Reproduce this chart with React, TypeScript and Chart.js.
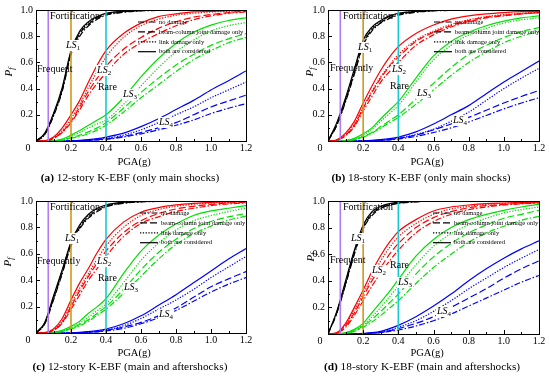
import React, { useEffect, useRef } from 'react';
import { Chart, registerables } from 'chart.js';

Chart.register(...registerables);

// ---------- data ----------
const PGA = [0, 0.05, 0.1, 0.15, 0.2, 0.25, 0.3, 0.35, 0.4, 0.5, 0.6, 0.7, 0.8, 0.9, 1.0, 1.1, 1.2];
const LEVELS = [0.07, 0.2, 0.4];
const CASE_LABELS = ['no damage', 'beam-column joint damage only', 'link damage only', 'both are considered'];

// (a) 12-story only main shocks  [none, joint, link, both]
const aLS1none = [0, 0.05, 0.19, 0.38, 0.66, 0.8, 0.88, 0.93, 0.96, 0.983, 0.993, 0.997, 0.999, 1, 1, 1, 1];
const aLS1joint = [0, 0.05, 0.2, 0.39, 0.67, 0.82, 0.89, 0.94, 0.965, 0.985, 0.995, 0.998, 1, 1, 1, 1, 1];
const aLS1link = [0, 0.055, 0.2, 0.4, 0.68, 0.83, 0.9, 0.945, 0.97, 0.99, 0.996, 0.999, 1, 1, 1, 1, 1];
const aLS1both = [0, 0.06, 0.21, 0.41, 0.69, 0.84, 0.91, 0.95, 0.975, 0.99, 0.997, 0.999, 1, 1, 1, 1, 1];
const aLS2none = [0, 0.001, 0.02, 0.065, 0.14, 0.24, 0.35, 0.44, 0.52, 0.66, 0.75, 0.82, 0.88, 0.925, 0.955, 0.975, 0.985];
const aLS2joint = [0, 0.001, 0.02, 0.07, 0.15, 0.26, 0.38, 0.48, 0.57, 0.7, 0.79, 0.86, 0.91, 0.945, 0.965, 0.98, 0.99];
const aLS2link = [0, 0.001, 0.025, 0.08, 0.17, 0.28, 0.41, 0.53, 0.64, 0.79, 0.88, 0.93, 0.96, 0.975, 0.985, 0.99, 0.995];
const aLS2both = [0, 0.002, 0.03, 0.1, 0.2, 0.31, 0.45, 0.58, 0.69, 0.82, 0.9, 0.95, 0.97, 0.985, 0.99, 0.995, 0.997];
const aLS3none = [0, 0, 0.001, 0.006, 0.02, 0.035, 0.055, 0.085, 0.12, 0.22, 0.33, 0.43, 0.53, 0.62, 0.69, 0.75, 0.79];
const aLS3joint = [0, 0, 0.001, 0.008, 0.025, 0.045, 0.07, 0.1, 0.14, 0.25, 0.37, 0.48, 0.58, 0.66, 0.73, 0.78, 0.82];
const aLS3link = [0, 0, 0.001, 0.01, 0.035, 0.065, 0.1, 0.13, 0.16, 0.28, 0.42, 0.56, 0.68, 0.77, 0.84, 0.88, 0.905];
const aLS3both = [0, 0, 0.002, 0.015, 0.045, 0.08, 0.12, 0.16, 0.2, 0.33, 0.49, 0.63, 0.745, 0.83, 0.885, 0.92, 0.94];
const aLS4none = [0, 0, 0, 0, 0.001, 0.002, 0.004, 0.008, 0.013, 0.03, 0.055, 0.085, 0.12, 0.16, 0.21, 0.25, 0.285];
const aLS4joint = [0, 0, 0, 0, 0.001, 0.002, 0.005, 0.01, 0.015, 0.035, 0.065, 0.1, 0.14, 0.2, 0.26, 0.305, 0.35];
const aLS4link = [0, 0, 0, 0, 0.001, 0.003, 0.007, 0.013, 0.02, 0.045, 0.085, 0.14, 0.2, 0.26, 0.33, 0.39, 0.45];
const aLS4both = [0, 0, 0, 0, 0.002, 0.005, 0.01, 0.018, 0.03, 0.06, 0.11, 0.17, 0.24, 0.31, 0.39, 0.46, 0.535];

// (b) 18-story only main shocks
const bLS1none = [0, 0.12, 0.3, 0.51, 0.73, 0.84, 0.9, 0.935, 0.96, 0.983, 0.993, 0.997, 0.999, 1, 1, 1, 1];
const bLS1joint = [0, 0.12, 0.31, 0.52, 0.74, 0.85, 0.905, 0.94, 0.965, 0.985, 0.995, 0.998, 1, 1, 1, 1, 1];
const bLS1link = [0, 0.13, 0.32, 0.54, 0.76, 0.86, 0.915, 0.95, 0.972, 0.99, 0.996, 0.999, 1, 1, 1, 1, 1];
const bLS1both = [0, 0.14, 0.33, 0.55, 0.77, 0.87, 0.92, 0.955, 0.975, 0.99, 0.997, 1, 1, 1, 1, 1, 1];
const bLS2none = [0, 0.006, 0.04, 0.11, 0.23, 0.34, 0.45, 0.53, 0.6, 0.73, 0.81, 0.87, 0.91, 0.94, 0.955, 0.97, 0.978];
const bLS2joint = [0, 0.007, 0.045, 0.12, 0.25, 0.37, 0.48, 0.57, 0.64, 0.76, 0.83, 0.88, 0.92, 0.945, 0.96, 0.972, 0.98];
const bLS2link = [0, 0.008, 0.05, 0.13, 0.26, 0.38, 0.49, 0.58, 0.66, 0.77, 0.84, 0.89, 0.925, 0.95, 0.965, 0.975, 0.985];
const bLS2both = [0, 0.01, 0.06, 0.15, 0.29, 0.42, 0.54, 0.64, 0.72, 0.82, 0.885, 0.93, 0.955, 0.97, 0.98, 0.987, 0.99];
const bLS3none = [0, 0, 0.002, 0.01, 0.03, 0.06, 0.1, 0.14, 0.18, 0.28, 0.39, 0.5, 0.6, 0.68, 0.75, 0.8, 0.84];
const bLS3joint = [0, 0, 0.002, 0.01, 0.035, 0.065, 0.11, 0.155, 0.2, 0.32, 0.44, 0.56, 0.66, 0.73, 0.79, 0.835, 0.865];
const bLS3link = [0, 0, 0.003, 0.015, 0.045, 0.09, 0.15, 0.21, 0.27, 0.45, 0.62, 0.73, 0.81, 0.86, 0.9, 0.925, 0.94];
const bLS3both = [0, 0, 0.004, 0.02, 0.055, 0.1, 0.17, 0.235, 0.3, 0.48, 0.65, 0.76, 0.83, 0.88, 0.915, 0.94, 0.955];
const bLS4none = [0, 0, 0, 0, 0.001, 0.002, 0.005, 0.008, 0.015, 0.035, 0.065, 0.1, 0.145, 0.195, 0.245, 0.29, 0.33];
const bLS4joint = [0, 0, 0, 0, 0.001, 0.003, 0.006, 0.01, 0.02, 0.045, 0.085, 0.13, 0.18, 0.235, 0.29, 0.34, 0.385];
const bLS4link = [0, 0, 0, 0, 0.001, 0.003, 0.007, 0.012, 0.02, 0.05, 0.09, 0.15, 0.22, 0.31, 0.4, 0.48, 0.555];
const bLS4both = [0, 0, 0, 0, 0.002, 0.005, 0.01, 0.018, 0.03, 0.07, 0.13, 0.2, 0.27, 0.36, 0.45, 0.53, 0.61];

// (c) 12-story main and aftershocks
const cLS1none = [0, 0.07, 0.25, 0.45, 0.66, 0.79, 0.87, 0.92, 0.955, 0.982, 0.993, 0.997, 0.999, 1, 1, 1, 1];
const cLS1joint = [0, 0.07, 0.26, 0.46, 0.67, 0.8, 0.88, 0.93, 0.96, 0.985, 0.995, 0.998, 1, 1, 1, 1, 1];
const cLS1link = [0, 0.075, 0.27, 0.47, 0.68, 0.81, 0.89, 0.94, 0.965, 0.988, 0.996, 0.999, 1, 1, 1, 1, 1];
const cLS1both = [0, 0.08, 0.28, 0.48, 0.69, 0.82, 0.9, 0.945, 0.97, 0.99, 0.997, 1, 1, 1, 1, 1, 1];
const cLS2none = [0, 0.002, 0.02, 0.075, 0.18, 0.29, 0.4, 0.49, 0.58, 0.73, 0.83, 0.88, 0.92, 0.945, 0.965, 0.978, 0.985];
const cLS2joint = [0, 0.002, 0.02, 0.08, 0.2, 0.32, 0.43, 0.53, 0.62, 0.76, 0.85, 0.905, 0.94, 0.96, 0.975, 0.985, 0.99];
const cLS2link = [0, 0.002, 0.025, 0.09, 0.22, 0.34, 0.45, 0.56, 0.66, 0.8, 0.89, 0.935, 0.96, 0.975, 0.985, 0.99, 0.994];
const cLS2both = [0, 0.003, 0.03, 0.11, 0.25, 0.38, 0.49, 0.61, 0.71, 0.84, 0.915, 0.95, 0.97, 0.982, 0.99, 0.994, 0.997];
const cLS3none = [0, 0, 0.002, 0.01, 0.03, 0.055, 0.09, 0.135, 0.18, 0.3, 0.43, 0.56, 0.67, 0.75, 0.81, 0.855, 0.885];
const cLS3joint = [0, 0, 0.003, 0.012, 0.035, 0.065, 0.1, 0.15, 0.2, 0.33, 0.48, 0.61, 0.71, 0.79, 0.845, 0.88, 0.905];
const cLS3link = [0, 0, 0.003, 0.015, 0.04, 0.075, 0.12, 0.17, 0.22, 0.38, 0.55, 0.68, 0.78, 0.85, 0.89, 0.92, 0.945];
const cLS3both = [0, 0, 0.005, 0.02, 0.05, 0.09, 0.15, 0.2, 0.26, 0.45, 0.62, 0.74, 0.825, 0.89, 0.925, 0.945, 0.965];
const cLS4none = [0, 0, 0, 0, 0.001, 0.002, 0.005, 0.009, 0.015, 0.035, 0.07, 0.115, 0.17, 0.24, 0.31, 0.37, 0.42];
const cLS4joint = [0, 0, 0, 0, 0.001, 0.003, 0.006, 0.011, 0.02, 0.045, 0.08, 0.13, 0.19, 0.27, 0.35, 0.41, 0.465];
const cLS4link = [0, 0, 0, 0, 0.001, 0.003, 0.007, 0.013, 0.022, 0.055, 0.11, 0.18, 0.25, 0.33, 0.42, 0.5, 0.58];
const cLS4both = [0, 0, 0, 0, 0.002, 0.005, 0.01, 0.018, 0.03, 0.07, 0.13, 0.21, 0.29, 0.38, 0.47, 0.56, 0.64];

// (d) 18-story main and aftershocks
const dLS1none = [0, 0.155, 0.37, 0.6, 0.79, 0.89, 0.945, 0.968, 0.982, 0.994, 0.998, 0.999, 1, 1, 1, 1, 1];
const dLS1joint = [0, 0.16, 0.38, 0.61, 0.8, 0.9, 0.95, 0.97, 0.985, 0.995, 0.998, 1, 1, 1, 1, 1, 1];
const dLS1link = [0, 0.165, 0.39, 0.62, 0.81, 0.91, 0.955, 0.975, 0.988, 0.996, 0.999, 1, 1, 1, 1, 1, 1];
const dLS1both = [0, 0.17, 0.4, 0.63, 0.82, 0.92, 0.96, 0.98, 0.99, 0.997, 1, 1, 1, 1, 1, 1, 1];
const dLS2none = [0, 0.006, 0.05, 0.14, 0.25, 0.36, 0.46, 0.55, 0.63, 0.76, 0.845, 0.9, 0.935, 0.955, 0.97, 0.978, 0.985];
const dLS2joint = [0, 0.007, 0.06, 0.16, 0.28, 0.4, 0.5, 0.6, 0.68, 0.8, 0.875, 0.92, 0.95, 0.965, 0.975, 0.982, 0.988];
const dLS2link = [0, 0.008, 0.07, 0.18, 0.3, 0.43, 0.55, 0.65, 0.73, 0.83, 0.9, 0.94, 0.96, 0.975, 0.982, 0.988, 0.99];
const dLS2both = [0, 0.01, 0.08, 0.2, 0.33, 0.47, 0.59, 0.69, 0.77, 0.86, 0.925, 0.955, 0.97, 0.98, 0.985, 0.99, 0.992];
const dLS3none = [0, 0, 0.005, 0.02, 0.05, 0.09, 0.14, 0.195, 0.25, 0.38, 0.5, 0.6, 0.69, 0.76, 0.81, 0.855, 0.885];
const dLS3joint = [0, 0, 0.006, 0.025, 0.06, 0.11, 0.17, 0.235, 0.3, 0.45, 0.58, 0.68, 0.76, 0.82, 0.87, 0.9, 0.93];
const dLS3link = [0, 0, 0.008, 0.03, 0.07, 0.13, 0.2, 0.28, 0.36, 0.52, 0.66, 0.755, 0.82, 0.87, 0.91, 0.935, 0.955];
const dLS3both = [0, 0, 0.01, 0.035, 0.08, 0.16, 0.24, 0.32, 0.41, 0.585, 0.71, 0.8, 0.86, 0.9, 0.93, 0.955, 0.975];
const dLS4none = [0, 0, 0, 0.001, 0.002, 0.005, 0.01, 0.02, 0.03, 0.06, 0.1, 0.15, 0.21, 0.27, 0.33, 0.39, 0.44];
const dLS4joint = [0, 0, 0, 0.001, 0.003, 0.006, 0.012, 0.025, 0.04, 0.08, 0.13, 0.2, 0.27, 0.34, 0.42, 0.49, 0.55];
const dLS4link = [0, 0, 0, 0.001, 0.003, 0.007, 0.015, 0.03, 0.05, 0.1, 0.17, 0.25, 0.34, 0.42, 0.5, 0.57, 0.635];
const dLS4both = [0, 0, 0, 0.002, 0.005, 0.01, 0.02, 0.04, 0.065, 0.13, 0.21, 0.3, 0.4, 0.49, 0.57, 0.64, 0.7];

// ---------- styles ----------
const FONT = "'Liberation Serif', 'Times New Roman', serif";
const LS_COLORS = ['#000000', '#ff0000', '#00e000', '#0000ff'];
const LEVEL_COLORS = ['#b07cf0', '#d09818', '#1ac8d4'];
const CASE_DASH = [[6, 2, 1.5, 2], [7, 3], [1.3, 1.5], []];

type Panel = {
  x: number; y: number;
  left: number; right: number; top: number; bottom: number;
  curves: number[][][];
  tag: string; caption: string; capX: number; capY: number;
  pgaX: number; pgaY: number; pfX: number; pfY: number; zeroX: number; zeroY: number;
  legX: number; freqText: string;
  txt: { fort: number[]; freq: number[]; rare: number[]; ls: number[][] };
};

const PANELS: Panel[] = [
  {
    x: 0, y: 0, left: 36, right: 246, top: 10, bottom: 141,
    curves: [[aLS1none, aLS1joint, aLS1link, aLS1both], [aLS2none, aLS2joint, aLS2link, aLS2both], [aLS3none, aLS3joint, aLS3link, aLS3both], [aLS4none, aLS4joint, aLS4link, aLS4both]],
    tag: '(a)', caption: ' 12-story K-EBF (only main shocks)', capX: 130, capY: 178,
    pgaX: 134, pgaY: 162, pfX: 9, pfY: 72, zeroX: 28, zeroY: 148, legX: 102, freqText: 'Frequent',
    txt: { fort: [0.08, 0.955], freq: [0.006, 0.55], rare: [0.354, 0.41], ls: [[0.171, 0.733], [0.349, 0.542], [0.497, 0.359], [0.703, 0.145]] },
  },
  {
    x: 275, y: 0, left: 53, right: 264, top: 10, bottom: 141,
    curves: [[bLS1none, bLS1joint, bLS1link, bLS1both], [bLS2none, bLS2joint, bLS2link, bLS2both], [bLS3none, bLS3joint, bLS3link, bLS3both], [bLS4none, bLS4joint, bLS4link, bLS4both]],
    tag: '(b)', caption: ' 18-story K-EBF (only main shocks)', capX: 146, capY: 178,
    pgaX: 152, pgaY: 162, pfX: 35, pfY: 72, zeroX: 45, zeroY: 148, legX: 106, freqText: 'Frequently',
    txt: { fort: [0.085, 0.955], freq: [0.011, 0.557], rare: [0.353, 0.42], ls: [[0.171, 0.718], [0.364, 0.55], [0.506, 0.366], [0.711, 0.16]] },
  },
  {
    x: 0, y: 190, left: 36, right: 246, top: 11, bottom: 143,
    curves: [[cLS1none, cLS1joint, cLS1link, cLS1both], [cLS2none, cLS2joint, cLS2link, cLS2both], [cLS3none, cLS3joint, cLS3link, cLS3both], [cLS4none, cLS4joint, cLS4link, cLS4both]],
    tag: '(c)', caption: ' 12-story K-EBF (main and aftershocks)', capX: 130, capY: 177,
    pgaX: 134, pgaY: 163, pfX: 8, pfY: 72, zeroX: 28, zeroY: 150, legX: 104, freqText: 'Frequently',
    txt: { fort: [0.08, 0.955], freq: [0.006, 0.545], rare: [0.354, 0.417], ls: [[0.166, 0.72], [0.349, 0.545], [0.503, 0.348], [0.703, 0.144]] },
  },
  {
    x: 275, y: 190, left: 53, right: 264, top: 11, bottom: 144,
    curves: [[dLS1none, dLS1joint, dLS1link, dLS1both], [dLS2none, dLS2joint, dLS2link, dLS2both], [dLS3none, dLS3joint, dLS3link, dLS3both], [dLS4none, dLS4joint, dLS4link, dLS4both]],
    tag: '(d)', caption: ' 18-story K-EBF (main and aftershocks)', capX: 147, capY: 177,
    pgaX: 152, pgaY: 163, pfX: 36, pfY: 67, zeroX: 45, zeroY: 151, legX: 105, freqText: 'Frequent',
    txt: { fort: [0.085, 0.955], freq: [0.011, 0.556], rare: [0.353, 0.519], ls: [[0.131, 0.722], [0.25, 0.481], [0.398, 0.391], [0.62, 0.173]] },
  },
];

const W = 275;
const H = 190;
const CAP_SIZE = 11.3;

function makeDeco(p: Panel) {
  return {
    id: 'deco' + p.tag,
    afterDatasetsDraw(chart: any) {
      const ctx = chart.ctx as CanvasRenderingContext2D;
      const xs = chart.scales.x;
      const ys = chart.scales.y;
      const a = chart.chartArea;
      ctx.save();
      // frame
      ctx.strokeStyle = '#000';
      ctx.lineWidth = 1;
      ctx.setLineDash([]);
      ctx.strokeRect(Math.round(a.left) + 0.5, Math.round(a.top) + 0.5, Math.round(a.right - a.left), Math.round(a.bottom - a.top));
      // ticks (inward)
      ctx.beginPath();
      for (let i = 0; i <= 12; i++) {
        const v = i / 10;
        const px = Math.round(xs.getPixelForValue(v)) + 0.5;
        const len = i % 2 === 0 ? 4 : 2;
        ctx.moveTo(px, a.bottom);
        ctx.lineTo(px, a.bottom - len);
      }
      for (let i = 0; i <= 10; i++) {
        const v = i / 10;
        const py = Math.round(ys.getPixelForValue(v)) + 0.5;
        const len = i % 2 === 0 ? 4 : 2;
        ctx.moveTo(a.left, py);
        ctx.lineTo(a.left + len, py);
      }
      ctx.stroke();

      // texts in plot
      ctx.fillStyle = '#000';
      ctx.textBaseline = 'middle';
      ctx.textAlign = 'left';
      ctx.font = `10px ${FONT}`;
      const put = (t: string, pos: number[]) => {
        ctx.fillText(t, xs.getPixelForValue(pos[0]), ys.getPixelForValue(pos[1]));
      };
      put('Fortification', p.txt.fort);
      put(p.freqText, p.txt.freq);
      put('Rare', p.txt.rare);
      p.txt.ls.forEach((pos, i) => {
        const px = xs.getPixelForValue(pos[0]);
        const py = ys.getPixelForValue(pos[1]);
        ctx.font = `italic 10px ${FONT}`;
        const w1 = ctx.measureText('LS').width;
        ctx.font = `7px ${FONT}`;
        const w2 = ctx.measureText(String(i + 1)).width;
        ctx.fillStyle = '#fff';
        ctx.fillRect(px - 1, py - 5, w1 + w2 + 2, 11);
        ctx.fillStyle = '#000';
        ctx.font = `italic 10px ${FONT}`;
        ctx.fillText('LS', px, py);
        ctx.font = `7px ${FONT}`;
        ctx.fillText(String(i + 1), px + w1, py + 3);
      });

      // legend
      const lx = a.left + p.legX;
      CASE_LABELS.forEach((lab, i) => {
        const ly = a.top + 12 + i * 9.9;
        ctx.strokeStyle = '#000';
        ctx.lineWidth = 1.2;
        ctx.setLineDash(CASE_DASH[i]);
        ctx.beginPath();
        ctx.moveTo(lx, ly);
        ctx.lineTo(lx + 18, ly);
        ctx.stroke();
        ctx.setLineDash([]);
        ctx.font = `6.5px ${FONT}`;
        ctx.fillStyle = '#000';
        ctx.fillText(lab, lx + 21, ly);
      });
      ctx.restore();
    },
    afterDraw(chart: any) {
      const ctx = chart.ctx as CanvasRenderingContext2D;
      ctx.save();
      ctx.fillStyle = '#000';
      ctx.textBaseline = 'middle';
      // "0" corner label
      ctx.textAlign = 'center';
      ctx.font = `10px ${FONT}`;
      ctx.fillText('0', p.zeroX, p.zeroY);
      // x title
      ctx.font = `10.5px ${FONT}`;
      ctx.fillText('PGA(g)', p.pgaX, p.pgaY);
      // y title P_f
      ctx.save();
      ctx.translate(p.pfX, p.pfY);
      ctx.rotate(-Math.PI / 2);
      ctx.textAlign = 'left';
      ctx.font = `italic 11px ${FONT}`;
      const wp = ctx.measureText('P').width;
      ctx.font = `italic 8px ${FONT}`;
      const wf = ctx.measureText('f').width;
      const x0 = -(wp + wf) / 2;
      ctx.font = `italic 11px ${FONT}`;
      ctx.fillText('P', x0, 0);
      ctx.font = `italic 8px ${FONT}`;
      ctx.fillText('f', x0 + wp, 3);
      ctx.restore();
      // caption
      ctx.textAlign = 'left';
      ctx.font = `bold ${CAP_SIZE}px ${FONT}`;
      const wt = ctx.measureText(p.tag).width;
      ctx.font = `${CAP_SIZE}px ${FONT}`;
      const wc = ctx.measureText(p.caption).width;
      const cx0 = p.capX - (wt + wc) / 2;
      ctx.font = `bold ${CAP_SIZE}px ${FONT}`;
      ctx.fillText(p.tag, cx0, p.capY);
      ctx.font = `${CAP_SIZE}px ${FONT}`;
      ctx.fillText(p.caption, cx0 + wt, p.capY);
      ctx.restore();
    },
  };
}

function PanelChart({ p }: { p: Panel }) {
  const ref = useRef<HTMLCanvasElement | null>(null);
  useEffect(() => {
    if (!ref.current) return;
    const datasets: any[] = [];
    LEVELS.forEach((lv, i) => {
      datasets.push({
        data: [{ x: lv, y: 0 }, { x: lv, y: 1 }],
        borderColor: LEVEL_COLORS[i],
        borderWidth: 1.6,
        pointRadius: 0,
        tension: 0,
      });
    });
    p.curves.forEach((group, ls) => {
      group.forEach((arr, k) => {
        datasets.push({
          data: PGA.map((x, j) => ({ x, y: arr[j] })),
          borderColor: LS_COLORS[ls],
          borderWidth: 1.2,
          borderDash: CASE_DASH[k],
          pointRadius: 0,
          cubicInterpolationMode: 'monotone',
        });
      });
    });
    const tickFont = { family: FONT, size: 10 };
    const chart = new Chart(ref.current, {
      type: 'line',
      data: { datasets },
      options: {
        animation: false,
        responsive: false,
        devicePixelRatio: 1,
        events: [],
        layout: { padding: { left: 0, top: p.top, right: W - p.right, bottom: 0 } },
        plugins: { legend: { display: false }, tooltip: { enabled: false }, title: { display: false } },
        scales: {
          x: {
            type: 'linear', min: 0, max: 1.2,
            ticks: {
              stepSize: 0.2, autoSkip: false, maxRotation: 0, padding: 1, color: '#000', font: tickFont,
              callback: (v: any) => (Math.abs(Number(v)) < 1e-9 ? '' : Number(v).toFixed(1)),
            },
            grid: { display: false, drawTicks: false },
            border: { display: false },
            afterFit: (s: any) => { s.height = H - p.bottom; },
          },
          y: {
            type: 'linear', min: 0, max: 1,
            ticks: {
              stepSize: 0.2, padding: 3, color: '#000', font: tickFont,
              callback: (v: any) => (Math.abs(Number(v)) < 1e-9 ? '' : Number(v).toFixed(1)),
            },
            grid: { display: false, drawTicks: false },
            border: { display: false },
            afterFit: (s: any) => { s.width = p.left; },
          },
        },
      } as any,
      plugins: [makeDeco(p)],
    });
    return () => chart.destroy();
  }, [p]);
  return (
    <div style={{ position: 'absolute', left: p.x, top: p.y, width: W, height: H }}>
      <canvas ref={ref} width={W} height={H} style={{ width: W, height: H, display: 'block' }} />
    </div>
  );
}

export default function App() {
  useEffect(() => {
    document.body.style.margin = '0';
  }, []);
  return (
    <div style={{ position: 'absolute', left: 0, top: 0, width: 550, height: 380, background: '#fff', overflow: 'hidden' }}>
      {PANELS.map((p) => (
        <PanelChart key={p.tag} p={p} />
      ))}
    </div>
  );
}
